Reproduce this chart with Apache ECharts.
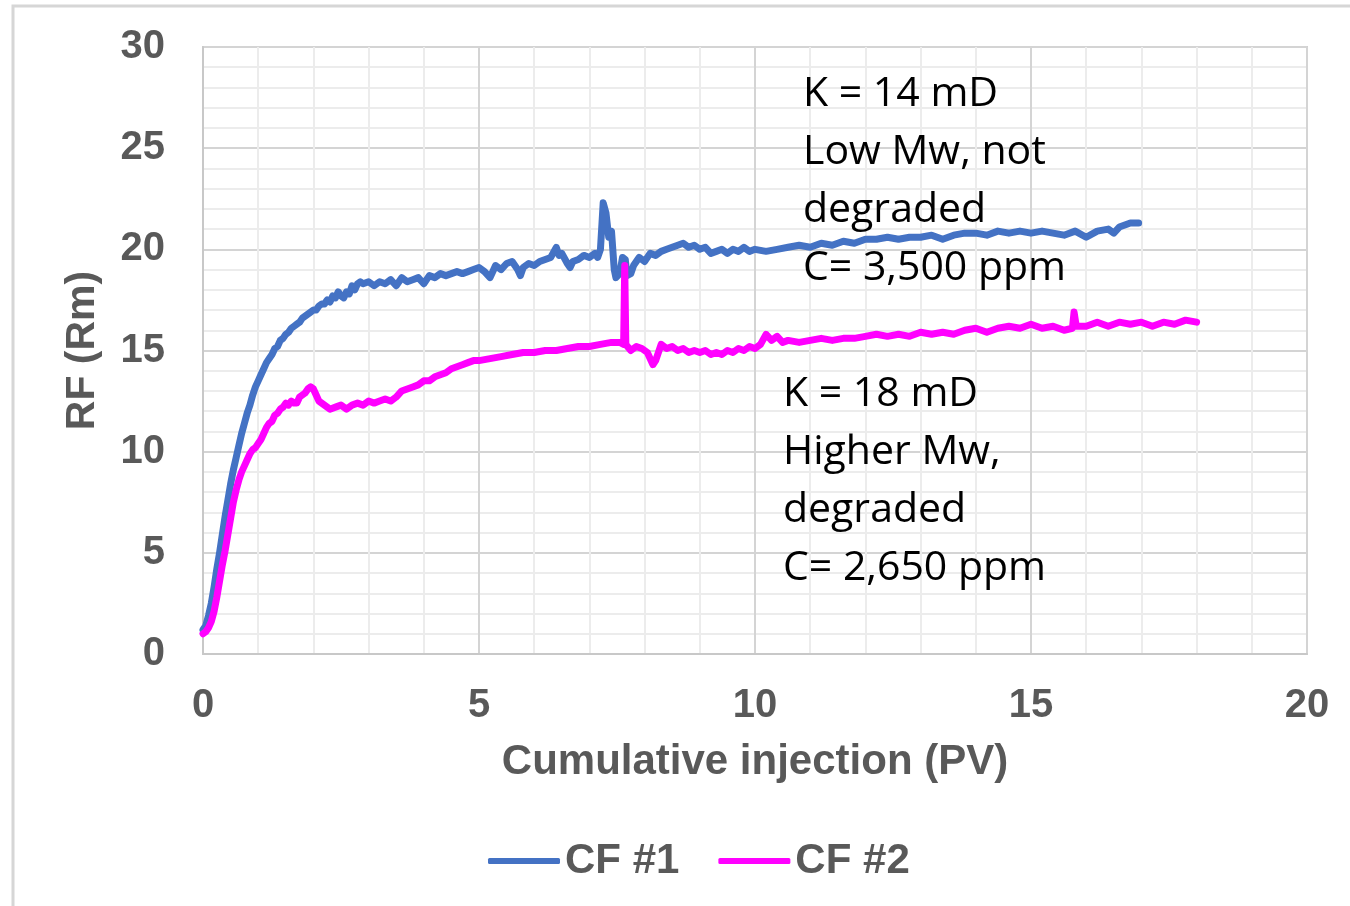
<!DOCTYPE html>
<html>
<head>
<meta charset="utf-8">
<script src="https://cdn.jsdelivr.net/npm/echarts@6/dist/echarts.min.js"></script>
<style>
  html, body { margin: 0; padding: 0; background: #fff; }
  #chart { width: 1350px; height: 906px; }
</style>
</head>
<body>
<div id="chart"></div>
<script>
// Cumulative injection (PV) and resistance factor readings, CF #1
const cf1Pv = [0.00,0.05,0.10,0.15,0.20,0.25,0.30,0.35,0.40,0.45,0.50,0.55,0.60,0.65,0.70,0.75,0.80,0.85,0.90,0.95,
  1.00,1.05,1.10,1.15,1.20,1.25,1.30,1.35,1.40,1.45,1.50,1.55,1.60,1.65,1.70,1.75,1.80,1.85,1.90,1.95,
  2.00,2.05,2.10,2.15,2.20,2.25,2.30,2.35,2.40,2.45,2.50,2.55,2.60,2.65,2.70,2.75,2.80,2.85,2.90,
  3.00,3.10,3.20,3.30,3.40,3.50,3.60,3.70,3.80,3.90,4.00,4.10,4.20,4.30,4.40,4.50,4.60,4.70,4.80,4.90,
  5.00,5.10,5.20,5.30,5.40,5.50,5.60,5.70,5.75,5.80,5.90,6.00,6.10,6.20,6.30,6.40,6.45,6.50,6.60,6.65,6.70,6.80,6.90,
  7.00,7.10,7.15,7.20,7.25,7.30,7.35,7.40,7.45,7.48,7.55,7.60,7.65,7.68,7.75,7.80,7.90,
  8.00,8.10,8.20,8.30,8.40,8.50,8.60,8.70,8.80,8.90,9.00,9.10,9.20,9.30,9.40,9.50,9.60,9.70,9.80,9.90,
  10.0,10.2,10.4,10.6,10.8,11.0,11.2,11.4,11.6,11.8,12.0,12.2,12.4,12.6,12.8,13.0,13.2,13.4,13.6,13.8,
  14.0,14.2,14.4,14.6,14.8,15.0,15.2,15.4,15.6,15.8,16.0,16.2,16.4,16.5,16.6,16.7,16.8,16.95];
const cf1Rf = [1.2,1.4,1.9,2.5,3.3,4.2,5.0,5.9,6.8,7.6,8.4,9.1,9.7,10.3,10.9,11.4,11.9,12.3,12.8,13.2,
  13.5,13.8,14.1,14.4,14.6,14.8,15.1,15.2,15.5,15.6,15.8,15.9,16.1,16.2,16.3,16.4,16.6,16.7,16.8,16.9,
  17.0,17.0,17.2,17.3,17.3,17.5,17.4,17.7,17.6,17.9,17.7,17.6,17.9,17.8,18.2,18.0,18.3,18.4,18.3,
  18.4,18.2,18.4,18.3,18.5,18.2,18.6,18.4,18.5,18.6,18.3,18.7,18.6,18.8,18.7,18.8,18.9,18.8,18.9,19.0,
  19.1,18.9,18.6,19.2,19.0,19.3,19.4,19.0,18.7,19.1,19.3,19.2,19.4,19.5,19.6,20.1,19.7,19.8,19.3,19.1,19.4,19.5,19.7,
  19.6,19.8,19.6,20.0,22.3,21.8,20.6,20.9,19.0,18.6,18.8,19.6,19.5,18.7,18.8,19.2,19.6,
  19.4,19.8,19.7,19.9,20.0,20.1,20.2,20.3,20.1,20.2,20.0,20.1,19.8,19.9,20.0,19.8,20.0,19.9,20.1,19.9,
  20.0,19.9,20.0,20.1,20.2,20.1,20.3,20.2,20.4,20.3,20.5,20.5,20.6,20.5,20.6,20.6,20.7,20.5,20.7,20.8,
  20.8,20.7,20.9,20.8,20.9,20.8,20.9,20.8,20.7,20.9,20.6,20.9,21.0,20.8,21.1,21.2,21.3,21.3];

// Cumulative injection (PV) and resistance factor readings, CF #2
const cf2Pv = [0.00,0.05,0.10,0.15,0.20,0.25,0.30,0.35,0.40,0.45,0.50,0.55,0.60,0.65,0.70,0.75,0.80,0.85,0.90,0.95,
  1.00,1.05,1.10,1.15,1.20,1.25,1.30,1.35,1.40,1.45,1.50,1.55,1.60,1.65,1.70,1.75,1.80,1.85,1.90,1.95,
  2.00,2.05,2.10,2.20,2.30,2.40,2.50,2.60,2.70,2.80,2.90,3.00,3.10,3.20,3.30,3.40,3.50,3.60,3.70,3.80,3.90,
  4.00,4.10,4.20,4.30,4.40,4.50,4.60,4.70,4.80,4.90,5.00,5.20,5.40,5.60,5.80,6.00,6.20,6.40,6.60,6.80,
  7.00,7.20,7.40,7.55,7.62,7.64,7.66,7.75,7.85,7.95,8.05,8.15,8.20,8.30,8.40,8.50,8.60,8.70,8.80,8.90,
  9.00,9.10,9.20,9.30,9.40,9.50,9.60,9.70,9.80,9.90,10.0,10.1,10.2,10.3,10.4,10.5,10.6,10.8,
  11.0,11.2,11.4,11.6,11.8,12.0,12.2,12.4,12.6,12.8,13.0,13.2,13.4,13.6,13.8,14.0,14.2,14.4,14.6,14.8,
  15.0,15.2,15.4,15.6,15.75,15.78,15.82,16.0,16.2,16.4,16.6,16.8,17.0,17.2,17.4,17.6,17.8,18.0];
const cf2Rf = [1.0,1.1,1.3,1.6,2.1,2.8,3.6,4.4,5.1,5.9,6.7,7.5,8.1,8.6,9.0,9.3,9.6,9.9,10.1,10.2,
  10.4,10.6,10.9,11.2,11.4,11.5,11.8,11.9,12.1,12.2,12.4,12.3,12.5,12.4,12.4,12.7,12.8,12.9,13.1,13.2,
  13.1,12.8,12.5,12.3,12.1,12.2,12.3,12.1,12.3,12.4,12.3,12.5,12.4,12.5,12.6,12.5,12.7,13.0,13.1,13.2,13.3,
  13.5,13.5,13.7,13.8,13.9,14.1,14.2,14.3,14.4,14.5,14.5,14.6,14.7,14.8,14.9,14.9,15.0,15.0,15.1,15.2,
  15.2,15.3,15.4,15.4,15.3,19.2,15.3,15.0,15.2,15.1,14.9,14.3,14.5,15.3,15.1,15.2,15.0,15.1,14.9,15.0,
  14.9,15.0,14.8,14.9,14.8,15.0,14.9,15.1,15.0,15.2,15.1,15.3,15.8,15.5,15.7,15.4,15.5,15.4,
  15.5,15.6,15.5,15.6,15.6,15.7,15.8,15.7,15.8,15.7,15.9,15.8,15.9,15.8,16.0,16.1,15.9,16.1,16.2,16.1,
  16.3,16.1,16.2,16.0,16.1,16.9,16.2,16.2,16.4,16.2,16.4,16.3,16.4,16.2,16.4,16.3,16.5,16.4];

const xTicks = { min: 0, max: 20, step: 5 };
const yTicks = { min: 0, max: 30, step: 5 };

const noteCF1 = ['K = 14 mD', 'Low Mw, not', 'degraded', 'C= 3,500 ppm'];
const noteCF2 = ['K = 18 mD', 'Higher Mw,', 'degraded', 'C= 2,650 ppm'];

const pair = (xs, ys) => xs.map((x, i) => [x, ys[i]]);

const axisFont = { fontFamily: 'Liberation Sans', fontWeight: 'bold', fontSize: 40, color: '#595959' };

const chart = echarts.init(document.getElementById('chart'), null, { renderer: 'canvas' });

const noteBlock = (lines, left, top) => ({
  type: 'text',
  left: left,
  top: top,
  style: {
    text: lines.join('\n'),
    font: '41px "Open Sans"',
    fill: '#000',
    lineHeight: 58
  },
  z: 10
});

chart.setOption({
  backgroundColor: '#fff',
  animation: false,
  grid: {
    left: 203, right: 43, top: 47, bottom: 252,
    show: true, borderColor: '#d0d0d0', borderWidth: 2
  },
  legend: {
    top: 840,
    left: 488,
    padding: 0,
    itemWidth: 72,
    itemHeight: 6,
    itemGap: 39,
    icon: 'roundRect',
    textStyle: Object.assign({}, axisFont, { fontSize: 42 }),
    data: ['CF #1', 'CF #2']
  },
  xAxis: {
    type: 'value',
    min: xTicks.min, max: xTicks.max, interval: xTicks.step,
    name: 'Cumulative injection (PV)',
    nameLocation: 'middle',
    nameGap: 87,
    nameTextStyle: Object.assign({}, axisFont, { fontSize: 42 }),
    axisLine: { show: true, lineStyle: { color: '#c8c8c8', width: 2 } },
    axisTick: { show: false },
    axisLabel: Object.assign({}, axisFont, { margin: 32 }),
    splitLine: { show: true, lineStyle: { color: '#d4d4d4', width: 2 } },
    minorTick: { show: false, splitNumber: 5 },
    minorSplitLine: { show: true, lineStyle: { color: '#ececec', width: 2 } }
  },
  yAxis: {
    type: 'value',
    min: yTicks.min, max: yTicks.max, interval: yTicks.step,
    name: 'RF (Rm)',
    nameLocation: 'middle',
    nameGap: 100,
    nameTextStyle: Object.assign({}, axisFont, { fontSize: 41 }),
    axisLine: { show: true, lineStyle: { color: '#c8c8c8', width: 2 } },
    axisTick: { show: false },
    axisLabel: Object.assign({}, axisFont, { margin: 38 }),
    splitLine: { show: true, lineStyle: { color: '#d4d4d4', width: 2 } },
    minorTick: { show: false, splitNumber: 5 },
    minorSplitLine: { show: true, lineStyle: { color: '#ececec', width: 2 } }
  },
  series: [
    {
      name: 'CF #1', type: 'line', data: pair(cf1Pv, cf1Rf),
      showSymbol: false, symbol: 'none',
      lineStyle: { color: '#4472C4', width: 7, join: 'round', cap: 'round' },
      itemStyle: { color: '#4472C4' }
    },
    {
      name: 'CF #2', type: 'line', data: pair(cf2Pv, cf2Rf),
      showSymbol: false, symbol: 'none',
      lineStyle: { color: '#FF00FF', width: 7, join: 'round', cap: 'round' },
      itemStyle: { color: '#FF00FF' }
    }
  ],
  graphic: [
    {
      type: 'rect',
      shape: { x: 13, y: 6, width: 1345, height: 910 },
      style: { fill: 'none', stroke: '#d6d6d6', lineWidth: 3 },
      silent: true, z: -1
    },
    noteBlock(noteCF1, 803, 65),
    noteBlock(noteCF2, 783, 365)
  ]
});
</script>
</body>
</html>
